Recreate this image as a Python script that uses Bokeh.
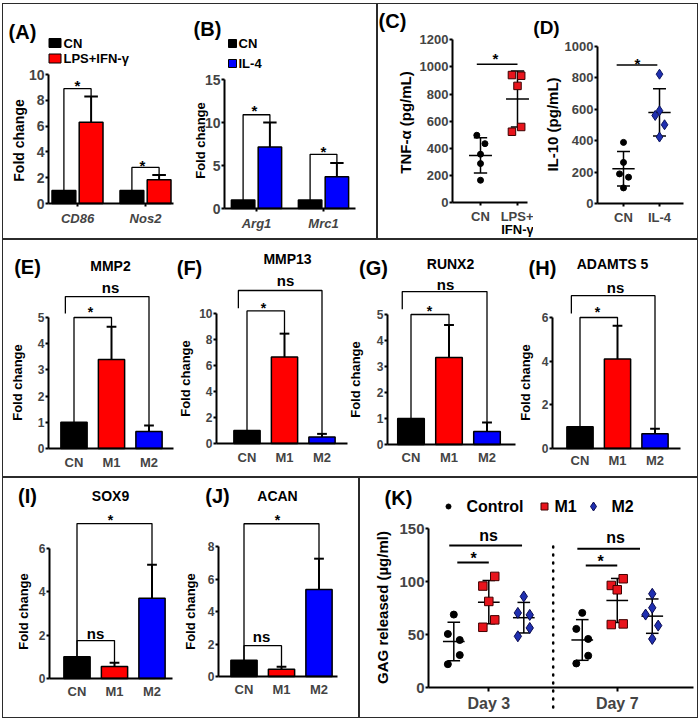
import math
import numpy as np
from bokeh.plotting import figure
from bokeh.layouts import row, column
from bokeh.models import Label, FixedTicker, Range1d, Spacer
from bokeh.embed import file_html
from bokeh.resources import INLINE

FONT = "Liberation Sans"
RED = "#ff0000"
BLUE = "#0000ff"
PT_RED = "#e8141c"
PT_BLUE = "#1f2fb0"

# ======================= data =======================
# (A) qPCR, M1 markers
A_genes = ["CD86", "Nos2"]
A_cn = [1.0, 1.0]
A_lps = [6.3, 1.85]
A_lps_sd = [2.0, 0.35]
# (B) qPCR, M2 markers
B_genes = ["Arg1", "Mrc1"]
B_cn = [1.0, 1.0]
B_il4 = [7.15, 3.7]
B_il4_sd = [2.85, 1.6]
# (C) TNF-alpha (pg/mL)
C_groups = ["CN", "LPS+"]
C_cn = [496, 434, 356, 287, 164]
C_lps = [940, 935, 860, 557, 522]
# (D) IL-10 (pg/mL)
D_groups = ["CN", "IL-4"]
D_cn = [388, 261, 188, 167, 99]
D_il4 = [821, 589, 559, 500, 422]
# (E)-(J) fold change, CN / M1 / M2
groups3 = ["CN", "M1", "M2"]
E_mean = [1.0, 3.4, 0.65]
E_sd = [0.0, 1.25, 0.23]
F_mean = [1.0, 6.65, 0.5]
F_sd = [0.0, 1.8, 0.24]
G_mean = [1.0, 3.35, 0.5]
G_sd = [0.0, 1.25, 0.35]
H_mean = [1.0, 4.1, 0.68]
H_sd = [0.0, 1.52, 0.22]
I_mean = [1.0, 0.55, 3.7]
I_sd = [0.0, 0.18, 1.55]
J_mean = [1.0, 0.45, 5.35]
J_sd = [0.0, 0.15, 1.9]
# (K) GAG released (ug/ml)
K_days = ["Day 3", "Day 7"]
K_control = [[68.8, 50.5, 44.8, 30.6, 22.0], [70.4, 55.3, 45.8, 30.0, 22.7]]
K_m1 = [[104.8, 95.7, 81.2, 63.8, 56.8], [102.6, 96.3, 92.2, 60.0, 59.4]]
K_m2 = [[85.9, 70.4, 68.5, 56.2, 48.3], [88.4, 75.2, 68.8, 58.4, 45.8]]

# ======================= layout / style =======================
DODGE = 0.2
BW2 = 0.35
CAP2 = 0.1
BW3 = 0.7
CAP3 = 0.13
MEAN_W = 0.31
SD_W = 0.18
NS_LEFT = -0.23
DAY_GAP = 3.67
SEP = 2.84

C_JIT = [[-0.1, 0.12, 0.0, 0.0, 0.0], [-0.15, 0.1, 0.0, 0.1, -0.15]]
D_JIT = [[0.0, 0.0, -0.11, 0.14, 0.0], [0.0, 0.0, -0.12, 0.14, 0.0]]
K_JIT = [[[0, -0.17, 0.17, 0.17, -0.17], [0.17, -0.17, 0, 0.17, -0.17], [0, -0.17, 0.17, 0.17, -0.17]],
         [[0, -0.17, 0.17, 0.17, -0.17], [0.17, -0.17, 0, 0.17, -0.17], [0, 0, -0.19, 0.17, 0]]]

A_BR = [8.9, 2.8]
B_BR = [10.9, 6.3]
C_BR = (1020, -0.1, 1.0)
D_BR = (880, -0.19, 0.94)
E_BR = (5.8, 5.15, 5.0)
F_BR = (11.77, 10.4, 10.2)
G_BR = (5.88, 5.2, 5.0)
H_BR = (7.0, 6.18, 6.0)
I_BR = (7.15, 1.75)
J_BR = (9.4, 1.9)
K_NS = [(134, -0.13, 1.95), (131, -0.14, 1.65)]
K_ST = [(118, 0.1, 1.0), (115, 0.1, 1.0)]

# page geometry (px); boxes have a 1px CSS border
X0, Y0 = 2, 3                      # spacer offset of the whole figure
XR = 698
XAB = 377
XIJ = 359
ROW1 = (3, 239)
ROW2 = (239, 477)
ROW3 = (477, 718)


def make_fig(L, Rr, T, B, ax, ax_end, y0, ytick_px, ytick_val, xc0, xc1):
    """Figure whose frame covers the whole canvas; axes are pinned inside it."""
    ppu_y = (y0 - ytick_px) / ytick_val
    ppu_x = xc1 - xc0
    p = figure(width=Rr - L, height=B - T,
               x_range=Range1d((L - xc0) / ppu_x, (Rr - xc0) / ppu_x),
               y_range=Range1d((y0 - B) / ppu_y, (y0 - T) / ppu_y),
               min_border=0, min_border_left=0, min_border_right=0,
               min_border_top=0, min_border_bottom=0,
               toolbar_location=None, output_backend="svg")
    p.grid.visible = False
    p.outline_line_color = None
    p.background_fill_color = "white"
    p.border_fill_color = "white"
    g = dict(xc0=xc0, y0=y0, ppu_x=ppu_x, ppu_y=ppu_y, ax=ax, ax_end=ax_end)
    return p, g


def dx(g, X):
    return (X - g["xc0"]) / g["ppu_x"]


def dy(g, Y):
    return (g["y0"] - Y) / g["ppu_y"]


def style(p, g, yticks, xticks, xlabels, tick_size, cat_size, label_y, cat_style="bold", xtick_out=0):
    ya = p.yaxis[0]
    ya.fixed_location = dx(g, g["ax"])
    ya.ticker = FixedTicker(ticks=yticks)
    ya.bounds = (yticks[0], yticks[-1])
    ya.axis_line_width = 2
    ya.major_tick_line_width = 2
    ya.major_tick_out = 3
    ya.major_tick_in = 0
    ya.minor_tick_line_color = None
    ya.major_label_text_font = FONT
    ya.major_label_text_font_style = "bold"
    ya.major_label_text_font_size = tick_size
    ya.major_label_standoff = 1
    xa = p.xaxis[0]
    xa.fixed_location = 0
    xa.bounds = (dx(g, g["ax"]), dx(g, g["ax_end"]))
    xa.ticker = FixedTicker(ticks=xticks)
    xa.major_label_overrides = {t: l for t, l in zip(xticks, xlabels)}
    xa.axis_line_width = 2
    xa.major_tick_line_width = 2
    xa.major_tick_out = xtick_out
    xa.major_tick_in = 0
    if xtick_out == 0:
        xa.major_tick_line_color = None
    xa.minor_tick_line_color = None
    xa.major_label_text_font = FONT
    xa.major_label_text_font_style = cat_style
    xa.major_label_text_font_size = cat_size
    fs = float(cat_size.replace("px", ""))
    xa.major_label_standoff = max(0, int(round(label_y - g["y0"] - xtick_out - 0.55 * fs)))


def lab(p, g, text, X, Y, size, angle=0.0, style="bold", align="center", baseline="middle"):
    p.add_layout(Label(x=dx(g, X), y=dy(g, Y), x_units="data", y_units="data",
                       text=text, text_font=FONT, text_font_size=size, text_font_style=style,
                       text_align=align, text_baseline=baseline, angle=angle, text_color="#000000"))


def errbars(p, x, m, s, cap, lw=2):
    x = np.asarray(x, float); m = np.asarray(m, float); s = np.asarray(s, float)
    k = s > 0
    x, m, s = x[k], m[k], s[k]
    p.segment(x0=x, y0=m, x1=x, y1=m + s, line_color="black", line_width=lw)
    p.segment(x0=x - cap, y0=m + s, x1=x + cap, y1=m + s, line_color="black", line_width=lw)


def bracket(p, xl, xr, yl, yr, level, lw=1.3):
    p.line(x=[xl, xl, xr, xr], y=[yl, level, level, yr], line_color="black", line_width=lw)


def dotgroup(p, xc, vals, jit, marker, size, fill, line):
    v = np.asarray(vals, float)
    m = v.mean(); s = v.std(ddof=1)
    p.segment(x0=[xc - MEAN_W, xc - SD_W, xc - SD_W, xc], y0=[m, m + s, m - s, m - s],
              x1=[xc + MEAN_W, xc + SD_W, xc + SD_W, xc], y1=[m, m + s, m - s, m + s],
              line_color="black", line_width=1.5)
    p.scatter(x=xc + np.asarray(jit, float), y=v, marker=marker, size=size,
              fill_color=fill, line_color=line, line_width=1)


R1i = (ROW1[0] + 1, ROW1[1] - 1)
R2i = (ROW2[0] + 1, ROW2[1] - 1)
R3i = (ROW3[0] + 1, ROW3[1] - 1)
XLi = X0 + 1

# ======================= (A) =======================
pA, gA = make_fig(XLi, 178, R1i[0], R1i[1], 48, 173, 203, 74, 10, 77, 145)
style(pA, gA, [0, 2, 4, 6, 8, 10], [0, 1], A_genes, "14px", "13px", 217, cat_style="bold italic", xtick_out=3)
xg = np.arange(len(A_genes))
xa_cn = xg - DODGE
xa_t = xg + DODGE
pA.vbar(x=xa_cn, top=A_cn, width=BW2, fill_color="black", line_color="black", line_width=1.5)
pA.vbar(x=xa_t, top=A_lps, width=BW2, fill_color=RED, line_color="black", line_width=1.5)
errbars(pA, xa_t, A_lps, A_lps_sd, CAP2)
for i in range(len(A_genes)):
    bracket(pA, xa_cn[i], xa_t[i], A_cn[i], A_lps[i] + A_lps_sd[i], A_BR[i])
pA.rect(x=[dx(gA, 54.5)], y=[dy(gA, 42.5)], width=12, height=9, width_units="screen",
        height_units="screen", fill_color="black", line_color="black")
pA.rect(x=[dx(gA, 54.5)], y=[dy(gA, 58)], width=12, height=9, width_units="screen",
        height_units="screen", fill_color=RED, line_color="black")
lab(pA, gA, "CN", 63, 43, "13px", align="left")
lab(pA, gA, "LPS+IFN-\u03b3", 63, 58, "13px", align="left")
lab(pA, gA, "(A)", 22, 31, "20px")
lab(pA, gA, "Fold change", 18, 140, "14px", angle=math.pi / 2)
lab(pA, gA, "*", 77, 85, "15px")
lab(pA, gA, "*", 142, 165, "15px")

# ======================= (B) =======================
pB, gB = make_fig(178, XAB - 1, R1i[0], R1i[1], 224, 355, 208, 79, 15, 256, 323)
style(pB, gB, [0, 5, 10, 15], [0, 1], B_genes, "14px", "13px", 222, cat_style="bold italic", xtick_out=3)
xg = np.arange(len(B_genes))
xb_cn = xg - DODGE
xb_t = xg + DODGE
pB.vbar(x=xb_cn, top=B_cn, width=BW2, fill_color="black", line_color="black", line_width=1.5)
pB.vbar(x=xb_t, top=B_il4, width=BW2, fill_color=BLUE, line_color="black", line_width=1.5)
errbars(pB, xb_t, B_il4, B_il4_sd, CAP2)
for i in range(len(B_genes)):
    bracket(pB, xb_cn[i], xb_t[i], B_cn[i], B_il4[i] + B_il4_sd[i], B_BR[i])
pB.rect(x=[dx(gB, 232)], y=[dy(gB, 43)], width=8, height=8, width_units="screen",
        height_units="screen", fill_color="black", line_color="black")
pB.rect(x=[dx(gB, 232)], y=[dy(gB, 63)], width=8, height=8, width_units="screen",
        height_units="screen", fill_color=BLUE, line_color="black")
lab(pB, gB, "CN", 238, 43, "13px", align="left")
lab(pB, gB, "IL-4", 238, 63, "13px", align="left")
lab(pB, gB, "(B)", 207, 28, "20px")
lab(pB, gB, "Fold change", 200, 140, "13px", angle=math.pi / 2)
lab(pB, gB, "*", 254, 110, "15px")
lab(pB, gB, "*", 323, 151, "15px")

# ======================= (C) =======================
S_CD = 533
pC, gC = make_fig(XAB + 1, S_CD, R1i[0], R1i[1], 452, 527, 202, 39.3, 1200, 480, 517)
style(pC, gC, [0, 200, 400, 600, 800, 1000, 1200], [0, 1], C_groups, "13px", "13px", 215, xtick_out=3)
dotgroup(pC, 0, C_cn, C_JIT[0], "circle", 6, "black", "black")
dotgroup(pC, 1, C_lps, C_JIT[1], "square", 7.5, PT_RED, "#3a0000")
pC.line(x=[C_BR[1], C_BR[2]], y=[C_BR[0], C_BR[0]], line_color="black", line_width=1.5)
lab(pC, gC, "IFN-\u03b3", 517, 229, "13px")
lab(pC, gC, "(C)", 392, 20, "20px")
lab(pC, gC, "TNF-\u03b1 (pg/mL)", 405, 122, "15px", angle=math.pi / 2)
lab(pC, gC, "*", 495, 58, "15px")

# ======================= (D) =======================
pD, gD = make_fig(S_CD, XR - 1, R1i[0], R1i[1], 597, 683, 203, 45.5, 1000, 623, 659)
style(pD, gD, [0, 200, 400, 600, 800, 1000], [0, 1], D_groups, "13px", "13px", 216, xtick_out=3)
dotgroup(pD, 0, D_cn, D_JIT[0], "circle", 6, "black", "black")
dotgroup(pD, 1, D_il4, D_JIT[1], "diamond", 10, PT_BLUE, "#0c1560")
pD.line(x=[D_BR[1], D_BR[2]], y=[D_BR[0], D_BR[0]], line_color="black", line_width=1.5)
lab(pD, gD, "(D)", 546, 27, "19px")
lab(pD, gD, "IL-10 (pg/mL)", 552, 124, "15px", angle=math.pi / 2)
lab(pD, gD, "*", 637, 63, "15px")


# ======================= (E)-(J) =======================
def bars3(p, means, sds):
    x = np.arange(len(groups3))
    p.vbar(x=x, top=means, width=BW3, fill_color=["black", RED, BLUE], line_color="black", line_width=1.5)
    errbars(p, x, means, sds, CAP3)


def brackets_EH(p, means, sds, lv):
    ns, ns_leg, star = lv
    top = np.asarray(means) + np.asarray(sds)
    bracket(p, NS_LEFT, 2, ns_leg, top[2], ns)
    bracket(p, 0, 1, means[0], top[1], star)


def brackets_IJ(p, means, sds, lv):
    star, ns = lv
    top = np.asarray(means) + np.asarray(sds)
    bracket(p, 0, 2, means[0], top[2], star)
    bracket(p, 0, 1, means[0], top[1], ns)


S_EF, S_FG, S_GH = 174, 348, 518
pE, gE = make_fig(XLi, S_EF, R2i[0], R2i[1], 48, 173, 448, 317, 5, 73.5, 111)
style(pE, gE, [0, 1, 2, 3, 4, 5], [0, 1, 2], groups3, "12px", "13px", 461)
bars3(pE, E_mean, E_sd); brackets_EH(pE, E_mean, E_sd, E_BR)
lab(pE, gE, "(E)", 27, 266, "20px"); lab(pE, gE, "MMP2", 110, 265, "14px")
lab(pE, gE, "ns", 110, 287, "15px"); lab(pE, gE, "*", 90, 311, "14px")
lab(pE, gE, "Fold change", 17, 382, "13px", angle=math.pi / 2)

pF, gF = make_fig(S_EF, S_FG, R2i[0], R2i[1], 216, 347, 443, 313, 10, 246.5, 284)
style(pF, gF, [0, 2, 4, 6, 8, 10], [0, 1, 2], groups3, "12px", "13px", 456)
bars3(pF, F_mean, F_sd); brackets_EH(pF, F_mean, F_sd, F_BR)
lab(pF, gF, "(F)", 189, 267, "20px"); lab(pF, gF, "MMP13", 287, 258, "14px")
lab(pF, gF, "ns", 285, 280, "15px"); lab(pF, gF, "*", 263, 307, "14px")
lab(pF, gF, "Fold change", 185, 378, "13px", angle=math.pi / 2)

pG, gG = make_fig(S_FG, S_GH, R2i[0], R2i[1], 387, 515, 444, 314, 5, 410.5, 448.5)
style(pG, gG, [0, 1, 2, 3, 4, 5], [0, 1, 2], groups3, "12px", "13px", 456)
bars3(pG, G_mean, G_sd); brackets_EH(pG, G_mean, G_sd, G_BR)
lab(pG, gG, "(G)", 373, 267, "20px"); lab(pG, gG, "RUNX2", 450, 263, "14px")
lab(pG, gG, "ns", 445, 284, "15px"); lab(pG, gG, "*", 429, 310, "14px")
lab(pG, gG, "Fold change", 355, 379, "13px", angle=math.pi / 2)

pH, gH = make_fig(S_GH, XR - 1, R2i[0], R2i[1], 552, 680, 448, 317, 6, 579.5, 617)
style(pH, gH, [0, 2, 4, 6], [0, 1, 2], groups3, "12px", "13px", 459)
bars3(pH, H_mean, H_sd); brackets_EH(pH, H_mean, H_sd, H_BR)
lab(pH, gH, "(H)", 542, 267, "20px"); lab(pH, gH, "ADAMTS 5", 612, 263, "14px")
lab(pH, gH, "ns", 615, 287, "15px"); lab(pH, gH, "*", 597, 311, "14px")
lab(pH, gH, "Fold change", 525, 382, "13px", angle=math.pi / 2)

S_IJ = 181
pI, gI = make_fig(XLi, S_IJ, R3i[0], R3i[1], 49, 172, 678, 548, 6, 76.5, 114)
style(pI, gI, [0, 2, 4, 6], [0, 1, 2], groups3, "12px", "13px", 690)
bars3(pI, I_mean, I_sd); brackets_IJ(pI, I_mean, I_sd, I_BR)
lab(pI, gI, "(I)", 27, 495, "20px"); lab(pI, gI, "SOX9", 110, 495, "14px")
lab(pI, gI, "*", 110, 519, "14px"); lab(pI, gI, "ns", 95, 633, "15px")
lab(pI, gI, "Fold change", 23, 611, "13px", angle=math.pi / 2)

pJ, gJ = make_fig(S_IJ, XIJ - 1, R3i[0], R3i[1], 218, 337, 676, 546, 8, 243.5, 281)
style(pJ, gJ, [0, 2, 4, 6, 8], [0, 1, 2], groups3, "12px", "13px", 688)
bars3(pJ, J_mean, J_sd); brackets_IJ(pJ, J_mean, J_sd, J_BR)
lab(pJ, gJ, "(J)", 217, 495, "20px"); lab(pJ, gJ, "ACAN", 277, 495, "14px")
lab(pJ, gJ, "*", 277, 519, "14px"); lab(pJ, gJ, "ns", 261, 636, "15px")
lab(pJ, gJ, "Fold change", 190, 611, "13px", angle=math.pi / 2)

# ======================= (K) =======================
pK, gK = make_fig(XIJ + 1, XR - 1, R3i[0], R3i[1], 428, 693, 687, 528, 150, 453.3, 488.3)
style(pK, gK, [0, 50, 100, 150], [1, DAY_GAP + 1], K_days, "15px", "16px", 703, xtick_out=4)
pK.line(x=[SEP, SEP], y=[dy(gK, 707), 133], line_color="black", line_width=2.5, line_dash="1 7", line_cap="round")
K_sets = [(K_control, "circle", 7, "black", "black"),
          (K_m1, "square", 8.5, PT_RED, "#400000"),
          (K_m2, "diamond", 11, PT_BLUE, "#0a0a50")]
for d in range(len(K_days)):
    for j, (vals, mk, sz, fc, lc) in enumerate(K_sets):
        dotgroup(pK, d * DAY_GAP + j, vals[d], K_JIT[d][j], mk, sz, fc, lc)
    lv, a, b = K_NS[d]
    pK.line(x=[d * DAY_GAP + a, d * DAY_GAP + b], y=[lv, lv], line_color="black", line_width=2)
    lv, a, b = K_ST[d]
    pK.line(x=[d * DAY_GAP + a, d * DAY_GAP + b], y=[lv, lv], line_color="black", line_width=2)
pK.scatter(x=[dx(gK, 448)], y=[dy(gK, 506)], marker="circle", size=5, fill_color="black", line_color="black")
pK.scatter(x=[dx(gK, 544)], y=[dy(gK, 506)], marker="square", size=7, fill_color=PT_RED, line_color="#400000")
pK.scatter(x=[dx(gK, 593)], y=[dy(gK, 506)], marker="diamond", size=9, fill_color=PT_BLUE, line_color="#0a0a50")
lab(pK, gK, "Control", 466, 506, "16px", align="left")
lab(pK, gK, "M1", 554, 506, "16px", align="left")
lab(pK, gK, "M2", 611, 506, "16px", align="left")
lab(pK, gK, "(K)", 398, 497, "20px")
lab(pK, gK, "GAG released (\u00b5g/ml)", 382, 607, "15px", angle=math.pi / 2)
lab(pK, gK, "ns", 488, 535, "16px")
lab(pK, gK, "*", 473, 558, "16px")
lab(pK, gK, "ns", 615, 537, "16px")
lab(pK, gK, "*", 600, 561, "16px")

# ======================= assemble =======================
BST = {"border": "1px solid #2b2b2b"}
boxAB = row(pA, pB, styles=BST)
boxCD = row(pC, pD, styles=BST)
boxEH = row(pE, pF, pG, pH, styles=BST)
boxIJ = row(pI, pJ, styles=BST)
boxK = row(pK, styles=BST)
inner = column(row(boxAB, boxCD), boxEH, row(boxIJ, boxK))
layout = column(Spacer(width=10, height=Y0), row(Spacer(width=X0, height=10), inner))

open("out.html", "w").write(file_html(layout, INLINE))
